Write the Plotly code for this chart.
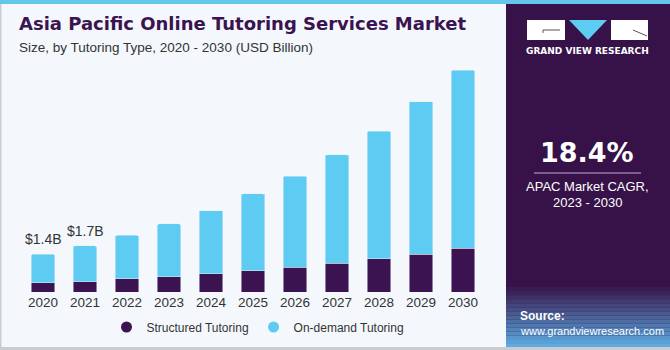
import plotly.graph_objects as go

years = ["2020", "2021", "2022", "2023", "2024", "2025", "2026", "2027", "2028", "2029", "2030"]
structured = [0.34, 0.38, 0.48, 0.56, 0.68, 0.78, 0.92, 1.07, 1.23, 1.39, 1.61]
on_demand = [1.06, 1.32, 1.61, 1.95, 2.32, 2.84, 3.36, 3.99, 4.71, 5.63, 6.58]
label_years = ["2020", "2021"]
label_texts = ["$1.4B", "$1.7B"]

W, H = 670, 350
def px(x):
    return x / W
def py(y):
    return 1 - y / H

DARK = "#3a1350"
BLUE = "#5ecbf3"

fig = go.Figure()
fig.add_trace(go.Bar(x=years, y=structured, name="Structured Tutoring",
                     marker_color=DARK, showlegend=False))
fig.add_trace(go.Bar(x=years, y=on_demand, name="On-demand Tutoring",
                     marker_color=BLUE, showlegend=False))
fig.add_trace(go.Scatter(x=[None], y=[None], mode="markers", name="Structured Tutoring",
                         marker=dict(color=DARK, size=11, symbol="circle")))
fig.add_trace(go.Scatter(x=[None], y=[None], mode="markers", name="On-demand Tutoring",
                         marker=dict(color=BLUE, size=11, symbol="circle")))

totals = {y: s + o for y, s, o in zip(years, structured, on_demand)}

shapes = []
shapes.append(dict(type="rect", xref="paper", yref="paper", x0=0, x1=px(506), y0=0, y1=1,
                   fillcolor="#f4f8fc", line_width=0, layer="below"))
shapes.append(dict(type="rect", xref="paper", yref="paper", x0=px(506), x1=1, y0=0, y1=py(3),
                   fillcolor="#371248", line_width=0, layer="below"))
c0 = (55, 18, 72)
c1 = (92, 172, 226)
n = 16
y_top, y_bot = 283, 348
for i in range(n):
    t = i / (n - 1)
    col = tuple(int(c0[k] + (c1[k] - c0[k]) * t) for k in range(3))
    ya = y_top + (y_bot - y_top) * i / n
    yb = y_top + (y_bot - y_top) * (i + 1) / n
    shapes.append(dict(type="rect", xref="paper", yref="paper", x0=px(506), x1=1,
                       y0=py(yb), y1=py(ya), fillcolor="rgb(%d,%d,%d)" % col,
                       line_width=0, layer="below"))
shapes.append(dict(type="rect", xref="paper", yref="paper", x0=0, x1=1, y0=py(4), y1=1,
                   fillcolor="#63c6ea", line_width=0, layer="below"))
shapes.append(dict(type="rect", xref="paper", yref="paper", x0=0, x1=1, y0=0, y1=py(347),
                   fillcolor="#c9ccd1", line_width=0, layer="above"))
shapes.append(dict(type="rect", xref="paper", yref="paper", x0=0, x1=px(1.5), y0=0, y1=py(4),
                   fillcolor="#c9ccd1", line_width=0, layer="above"))
# logo
shapes.append(dict(type="rect", xref="paper", yref="paper", x0=px(527), x1=px(565), y0=py(40), y1=py(20),
                   fillcolor="white", line_width=0))
shapes.append(dict(type="line", xref="paper", yref="paper", x0=px(543), x1=px(560), y0=py(30), y1=py(30),
                   line=dict(color="#555", width=1)))
shapes.append(dict(type="line", xref="paper", yref="paper", x0=px(543), x1=px(543), y0=py(30), y1=py(33),
                   line=dict(color="#555", width=1)))
shapes.append(dict(type="path", xref="paper", yref="paper",
                   path="M %f,%f L %f,%f L %f,%f Z" % (px(569), py(20), px(607), py(20), px(588), py(40)),
                   fillcolor="#5ecbf3", line_width=0))
shapes.append(dict(type="rect", xref="paper", yref="paper", x0=px(611), x1=px(648), y0=py(40), y1=py(20),
                   fillcolor="white", line_width=0))
shapes.append(dict(type="line", xref="paper", yref="paper", x0=px(633), x1=px(647), y0=py(30), y1=py(36),
                   line=dict(color="#555", width=1)))
shapes.append(dict(type="line", xref="paper", yref="paper", x0=px(534), x1=px(641), y0=py(173), y1=py(173),
                   line=dict(color="#c9a8dc", width=1)))

annotations = []
for yr, txt in zip(label_years, label_texts):
    annotations.append(dict(x=years.index(yr), y=totals[yr], xref="x", yref="y",
                            text=txt.replace("$", "&#36;"),
                            showarrow=False, yanchor="bottom", yshift=5,
                            font=dict(size=14, color="#333333", family="Liberation Sans")))
annotations += [
    dict(x=px(17), y=py(23), xref="paper", yref="paper", xanchor="left", yanchor="middle",
         text="<b>Asia Pacific Online Tutoring Services Market</b>", showarrow=False,
         font=dict(size=18, color="#3a1350", family="DejaVu Sans")),
    dict(x=px(17), y=py(47), xref="paper", yref="paper", xanchor="left", yanchor="middle",
         text="Size, by Tutoring Type, 2020 - 2030 (USD Billion)", showarrow=False,
         font=dict(size=13.5, color="#333333", family="Liberation Sans")),
    dict(x=px(587), y=py(51), xref="paper", yref="paper", xanchor="center", yanchor="middle",
         text="<b>GRAND VIEW RESEARCH</b>", showarrow=False,
         font=dict(size=9, color="white", family="DejaVu Sans")),
    dict(x=px(587), y=py(152), xref="paper", yref="paper", xanchor="center", yanchor="middle",
         text="<b>18.4%</b>", showarrow=False,
         font=dict(size=27, color="white", family="DejaVu Sans")),
    dict(x=px(587), y=py(186), xref="paper", yref="paper", xanchor="center", yanchor="middle",
         text="APAC Market CAGR,", showarrow=False,
         font=dict(size=13, color="white", family="Liberation Sans")),
    dict(x=px(587), y=py(202), xref="paper", yref="paper", xanchor="center", yanchor="middle",
         text="2023 - 2030", showarrow=False,
         font=dict(size=13, color="white", family="Liberation Sans")),
    dict(x=px(518), y=py(316), xref="paper", yref="paper", xanchor="left", yanchor="middle",
         text="<b>Source:</b>", showarrow=False,
         font=dict(size=12, color="white", family="Liberation Sans")),
    dict(x=px(518), y=py(331), xref="paper", yref="paper", xanchor="left", yanchor="middle",
         text="www.grandviewresearch.com", showarrow=False,
         font=dict(size=11, color="white", family="Liberation Sans")),
]

ymax = (292 - 60) / 27.1
fig.update_layout(
    width=W, height=H, margin=dict(l=0, r=0, t=0, b=0),
    paper_bgcolor="#f4f8fc", plot_bgcolor="rgba(0,0,0,0)",
    barmode="stack", bargap=0.43, barcornerradius=2,
    xaxis=dict(domain=[px(22), px(484)], range=[-0.5, 10.5], type="category",
               showgrid=False, showline=False, ticks="", zeroline=False,
               tickfont=dict(size=13.5, color="#333333", family="Liberation Sans")),
    yaxis=dict(domain=[py(292), py(60)], range=[0, ymax], visible=False),
    legend=dict(orientation="h", x=px(258), xanchor="center", y=py(327), yanchor="middle",
                traceorder="normal",
                font=dict(size=12, color="#333333", family="Liberation Sans"),
                bgcolor="rgba(0,0,0,0)"),
    shapes=shapes, annotations=annotations, showlegend=True,
)

fig.write_html("out.html")
